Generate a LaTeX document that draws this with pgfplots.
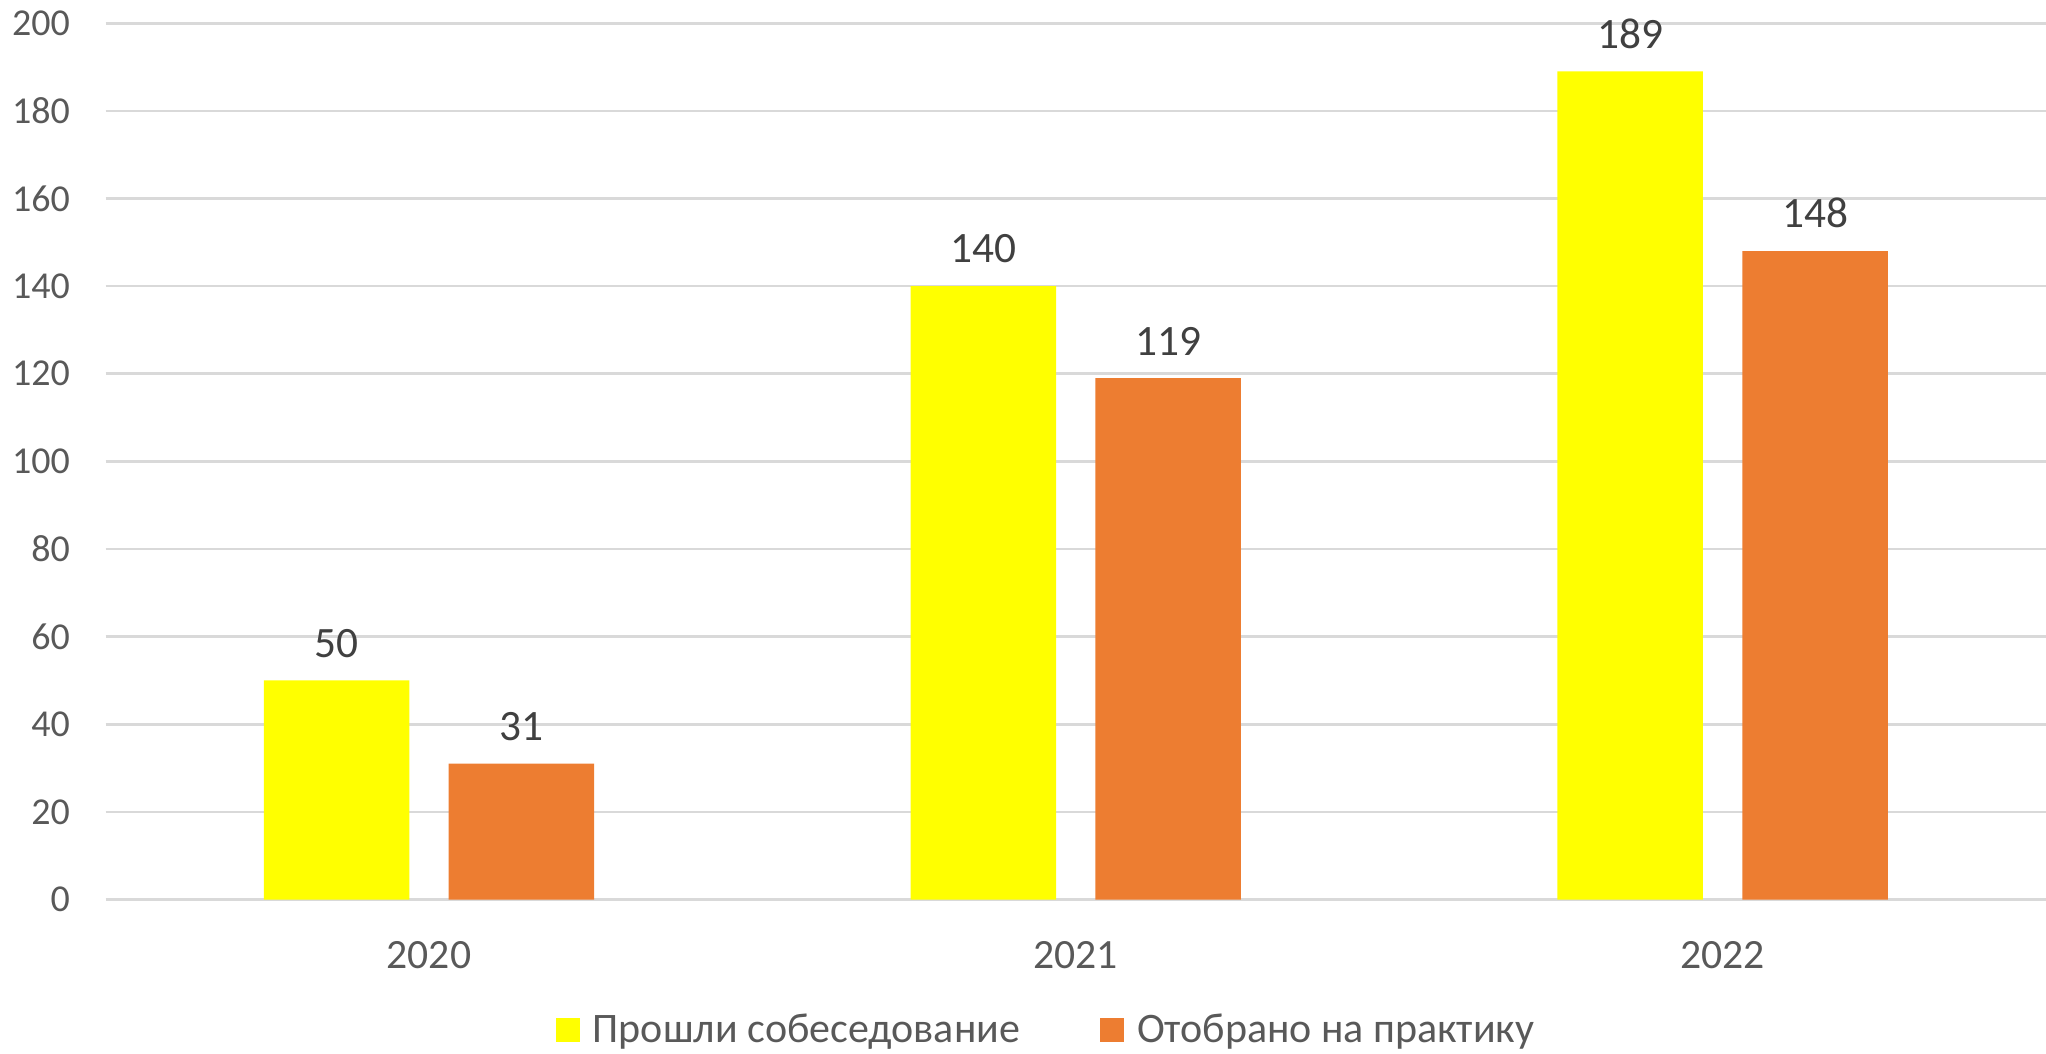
\documentclass[border=0pt]{standalone}
\usepackage{fontspec}
\setmainfont{Carlito}
\usepackage{pgfplots}
\pgfplotsset{compat=1.18}
\definecolor{cyel}{HTML}{FFFF00}
\definecolor{corg}{HTML}{ED7D31}
\definecolor{cgrid}{HTML}{D9D9D9}
\definecolor{ctick}{HTML}{595959}
\definecolor{clab}{HTML}{404040}
\begin{document}
\begin{tikzpicture}
\begin{axis}[name=ax, scale only axis, width=582.15pt, height=262.86pt,
 xmin=-0.5, xmax=2.5, ymin=0, ymax=200, ytick={0,20,...,200},
 xtick={0,1,2}, xticklabels={2020,2021,2022},
 ybar, bar width=43.65pt,
 ymajorgrids, grid style={cgrid, line width=0.8pt},
 axis line style={draw=none}, major tick length=0pt, tick style={draw=none},
 /pgf/number format/assume math mode=true,
 ticklabel style={text=ctick, inner sep=0pt},
 yticklabel style={font=\fontsize{11.4}{14}\selectfont, anchor=east, xshift=-10.5pt},
 xticklabel style={font=\fontsize{12.5}{15}\selectfont, anchor=north, yshift=-12.36pt},
 nodes near coords,
 every node near coord/.append style={font=\fontsize{13}{15.6}\selectfont, text=clab, anchor=south, inner sep=0pt, yshift=6.7pt},
 clip=false,
 legend columns=2,
 legend style={draw=none, fill=none, inner sep=0pt, at={(axis description cs:0.4842,0)}, anchor=center, yshift=-39.5pt, font=\fontsize{12.6}{15}\selectfont, text=ctick, nodes={inner sep=0pt}, /tikz/every even column/.append style={column sep=24pt}},
 legend image code/.code={\fill[#1] (0pt,-3.1pt) rectangle (7.2pt,4.1pt); \path (11.1pt,0pt);},
]
\addplot[fill=cyel, draw=none, bar shift=-27.72pt] coordinates {(0,50) (1,140) (2,189)};
\addplot[fill=corg, draw=none, bar shift=27.72pt] coordinates {(0,31) (1,119) (2,148)};
\legend{Прошли собеседование, Отобрано на практику}
\end{axis}
\pgfresetboundingbox
\path[use as bounding box] ([xshift=-31.65pt,yshift=-46.05pt]ax.south west) rectangle ([yshift=6.99pt]ax.north east);
\end{tikzpicture}
\end{document}
